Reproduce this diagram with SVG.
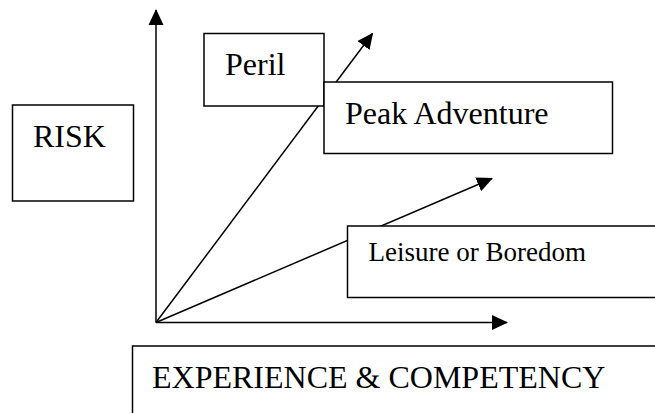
<svg xmlns="http://www.w3.org/2000/svg" width="655" height="413" viewBox="0 0 655 413">
  <style>
    .box { fill: #ffffff; stroke: #000000; stroke-width: 1.5; }
    .lbl { font-family: "Liberation Serif", "Times New Roman", serif; fill: #000000; }
    .conn { stroke: #000000; stroke-width: 1.5; fill: none; marker-end: url(#arrow); }
  </style>
  <defs>
    <marker id="arrow" markerUnits="userSpaceOnUse" markerWidth="16" markerHeight="16" viewBox="0 0 16 16" refX="15" refY="8" orient="auto">
      <path d="M0,0.5 L16,8 L0,15.5 Z" fill="#000000"/>
    </marker>
  </defs>
  <rect width="655" height="413" fill="#ffffff"/>
  <g id="connectors">
    <line class="conn" x1="156" y1="322.5" x2="156" y2="10"/>
    <line class="conn" x1="156" y1="322.5" x2="507" y2="322.5"/>
    <line class="conn" x1="156" y1="322.5" x2="372.5" y2="33.5"/>
    <line class="conn" x1="156" y1="322.5" x2="492" y2="178.5"/>
  </g>
  <g id="risk">
    <rect class="box" x="12.5" y="105" width="121" height="96"/>
    <text class="lbl" x="33" y="146.5" font-size="32">RISK</text>
  </g>
  <g id="peril">
    <rect class="box" x="204" y="33.5" width="120" height="72.5"/>
    <text class="lbl" x="225" y="75" font-size="32">Peril</text>
  </g>
  <g id="peak">
    <rect class="box" x="324" y="82" width="288.5" height="71.5"/>
    <text class="lbl" x="345" y="123.5" font-size="32">Peak Adventure</text>
  </g>
  <g id="leisure">
    <rect class="box" x="347.5" y="226" width="320" height="71.5"/>
    <text class="lbl" x="368.5" y="261" font-size="27">Leisure or Boredom</text>
  </g>
  <g id="experience">
    <rect class="box" x="132.5" y="346" width="540" height="90"/>
    <text class="lbl" x="152" y="387.5" font-size="32">EXPERIENCE &amp; COMPETENCY</text>
  </g>
</svg>
